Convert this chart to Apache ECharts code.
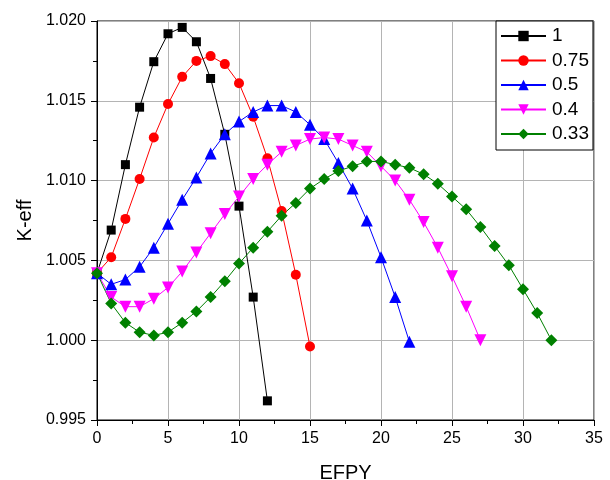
<!DOCTYPE html>
<html>
<head>
<meta charset="utf-8">
<script src="https://cdn.jsdelivr.net/npm/echarts@6/dist/echarts.min.js"></script>
<style>
  html, body { margin: 0; padding: 0; background: #fff; }
  #chart { width: 610px; height: 480px; }
</style>
</head>
<body>
<div id="chart"></div>
<script>
// K-eff vs EFPY, one point per year
const seriesNames = ['1', '0.75', '0.5', '0.4', '0.33']
const k1 = [1.0042, 1.0069, 1.0110, 1.0146, 1.01745, 1.0192, 1.0196, 1.0187, 1.0164, 1.0129, 1.0084, 1.0027, 0.9962]
const k075 = [1.0042, 1.0052, 1.0076, 1.0101, 1.0127, 1.0148, 1.0165, 1.0175, 1.0178, 1.0173, 1.0161, 1.0140, 1.0114, 1.0081, 1.0041, 0.9996]
const k05 = [1.0042, 1.0035, 1.0038, 1.0046, 1.0058, 1.0073, 1.0088, 1.0102, 1.0117, 1.0129, 1.0137, 1.0143, 1.0147, 1.0147, 1.0143, 1.0135, 1.0126, 1.0111, 1.0095, 1.0075, 1.0052, 1.0027, 0.9999]
const k04 = [1.0042, 1.0027, 1.0021, 1.0021, 1.0026, 1.0033, 1.0043, 1.0055, 1.0067, 1.0079, 1.0090, 1.0101, 1.0110, 1.0118, 1.0122, 1.0126, 1.0127, 1.0126, 1.0122, 1.0118, 1.0109, 1.0100, 1.0088, 1.0074, 1.0058, 1.0040, 1.0021, 1.0000]
const k033 = [1.0042, 1.0023, 1.0011, 1.0005, 1.0003, 1.0005, 1.0011, 1.0018, 1.0027, 1.0037, 1.0048, 1.0058, 1.0068, 1.0078, 1.0086, 1.0095, 1.0101, 1.0106, 1.0109, 1.0112, 1.0112, 1.0110, 1.0108, 1.0104, 1.0098, 1.0090, 1.0082, 1.0071, 1.0059, 1.0047, 1.0032, 1.0017, 1.0000]

const allValues = [k1, k075, k05, k04, k033]
const colors = ['#000000', '#ff0000', '#0000ff', '#ff00ff', '#008000']
const symbols = ['rect', 'circle', 'triangle', 'triangle', 'diamond']
const symbolSizes = [9, 10, 12, 12, 12]
const symbolRotates = [0, 0, 0, 180, 0]

const font = 'Liberation Sans, Arial, sans-serif'

const chart = echarts.init(document.getElementById('chart'))

const series = allValues.map((vals, i) => ({
  name: seriesNames[i],
  type: 'line',
  data: vals.map((v, x) => [x, v]),
  symbol: symbols[i],
  symbolSize: symbolSizes[i],
  symbolRotate: symbolRotates[i],
  showAllSymbol: true,
  lineStyle: { color: colors[i], width: 1 },
  itemStyle: { color: colors[i] },
  emphasis: { disabled: true },
  animation: false
}))

chart.setOption({
  backgroundColor: '#fff',
  textStyle: { fontFamily: font },
  grid: {
    left: 97,
    right: 16,
    top: 21,
    bottom: 60,
    outerBoundsMode: 'none',
    containLabel: false,
    show: true,
    borderColor: '#000',
    borderWidth: 1
  },
  legend: {
    data: seriesNames,
    orient: 'vertical',
    left: 496,
    top: 21,
    itemWidth: 45,
    itemHeight: 13,
    itemGap: 4.5,
    padding: [5, 4, 6, 4],
    borderColor: '#000',
    borderWidth: 1,
    borderRadius: 0,
    backgroundColor: '#fff',
    textStyle: { fontSize: 19, color: '#000', fontFamily: font, lineHeight: 20, padding: [0, 0, 0, 1] }
  },
  xAxis: {
    type: 'value',
    min: 0,
    max: 35,
    interval: 5,
    name: 'EFPY',
    nameLocation: 'middle',
    nameGap: 43,
    nameTextStyle: { fontSize: 20, color: '#000', fontFamily: font },
    axisLine: { show: true, lineStyle: { color: '#000', width: 1 } },
    axisTick: { show: true, length: 6, lineStyle: { color: '#000' } },
    minorTick: { show: true, splitNumber: 2, length: 4, lineStyle: { color: '#000' } },
    axisLabel: { fontSize: 16, color: '#000', fontFamily: font, margin: 11 },
    splitLine: { show: true, lineStyle: { color: '#b4b4b4', width: 1 } }
  },
  yAxis: {
    type: 'value',
    min: 0.995,
    max: 1.020,
    interval: 0.005,
    name: 'K-eff',
    nameLocation: 'middle',
    nameGap: 62,
    nameRotate: 90,
    nameTextStyle: { fontSize: 20, color: '#000', fontFamily: font },
    axisLine: { show: true, lineStyle: { color: '#000', width: 1 } },
    axisTick: { show: true, length: 6, lineStyle: { color: '#000' } },
    minorTick: { show: true, splitNumber: 2, length: 4, lineStyle: { color: '#000' } },
    axisLabel: {
      fontSize: 16,
      color: '#000',
      fontFamily: font,
      margin: 11,
      formatter: v => v.toFixed(3)
    },
    splitLine: { show: true, lineStyle: { color: '#b4b4b4', width: 1 } }
  },
  series: series
})
</script>
</body>
</html>
